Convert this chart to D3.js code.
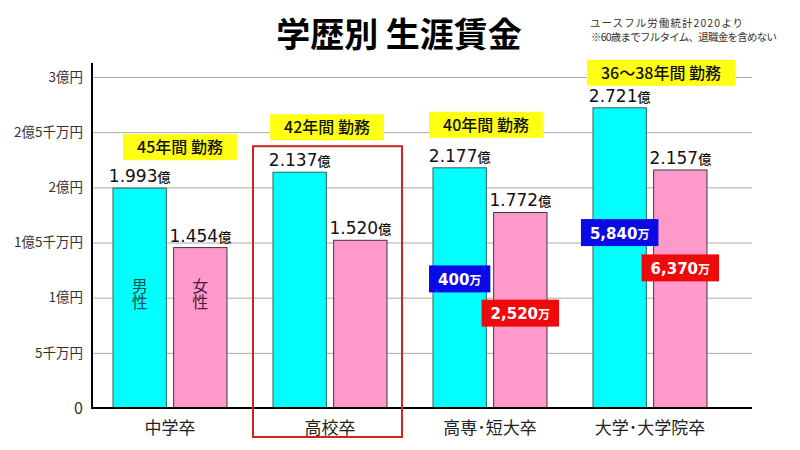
<!DOCTYPE html>
<html>
  <head>
    <meta charset="utf-8">
    <style>
    body {
      margin: 0;
      background: #fff;
    }
    svg text {
      font-family: "Noto Sans CJK JP", "Noto Sans", sans-serif;
    }
    .num {
      font-family: "DejaVu Sans", sans-serif;
    }
    </style>
  </head>
  <body>
    <script src="https://d3js.org/d3.v7.min.js"></script>
    <script>
    // data (億円)
    var categories = ["中学卒", "高校卒", "高専･短大卒", "大学･大学院卒"];
    var genders = ["男性", "女性"];
    var maleValues = [1.993, 2.137, 2.177, 2.721];
    var femaleValues = [1.454, 1.520, 1.772, 2.157];
    var workYears = ["45年間 勤務", "42年間 勤務", "40年間 勤務", "36～38年間 勤務"];
    // difference vs 高校卒 (万円)
    var maleDiff = [null, null, 400, 5840];
    var femaleDiff = [null, null, 2520, 6370];
    var yTicks = [0, 0.5, 1, 1.5, 2, 2.5, 3];
    var yTickLabels = ["0", "5千万円", "1億円", "1億5千万円", "2億円", "2億5千万円", "3億円"];

    // layout tweaks for annotation placement (value units / px)
    var maleDiffAt = [null, null, 1.17, 1.59];
    var femaleDiffAt = [null, null, 0.86, 1.27];
    var yearBoxShift = [10, -3, -4, 11];
    var yearBoxGap = [28, 32, 30, 22];

    var width = 800,
      height = 450;

    var svg = d3.select("body").append("svg")
        .attr("width", width)
        .attr("height", height);

    var x0 = d3.scaleBand()
        .domain(categories)
        .range([90, 730]);

    var x1 = d3.scaleBand()
        .domain(genders)
        .range([23, 137])
        .paddingInner(0.12);

    var y = d3.scaleLinear()
        .domain([0, 3])
        .range([408, 77]);

    // title
    svg.append("text")
        .attr("x", 399)
        .attr("y", 47)
        .attr("text-anchor", "middle")
        .style("font-size", "34px")
        .style("font-weight", "bold")
        .attr("fill", "#000")
        .text("学歴別 生涯賃金");

    svg.append("text")
        .attr("x", 590)
        .attr("y", 27)
        .attr("textLength", 153)
        .style("font-size", "10.5px")
        .attr("fill", "#333")
        .text("ユースフル労働統計2020より");
    svg.append("text")
        .attr("x", 591)
        .attr("y", 41)
        .attr("textLength", 186)
        .style("font-size", "10.5px")
        .attr("fill", "#333")
        .text("※60歳までフルタイム、退職金を含めない");

    // grid
    svg.append("g")
        .attr("transform", "translate(92,0)")
        .call(d3.axisLeft(y).tickValues(yTicks).tickSize(-660).tickFormat(""))
        .call(function(g){
          g.select(".domain").remove();
          g.selectAll(".tick line").attr("stroke", "#aaa");
        });

    // y axis labels
    var yAxis = svg.append("g")
        .attr("transform", "translate(92,0)")
        .call(d3.axisLeft(y).tickValues(yTicks).tickSize(0).tickPadding(9)
          .tickFormat(function(d, i){ return yTickLabels[i]; }));
    yAxis.select(".domain").remove();
    yAxis.selectAll(".tick text")
        .attr("fill", "#333")
        .style("font-size", function(d){ return d === 0 ? "16px" : "13.5px"; })
        .style("font-family", "\"Noto Sans CJK JP\", sans-serif");

    // bars
    var groups = svg.selectAll(".cat")
      .data(categories)
      .enter().append("g")
        .attr("class", "cat")
        .attr("transform", function(d){ return "translate(" + x0(d) + ",0)"; });

    groups.append("rect")
        .attr("x", x1("男性"))
        .attr("y", function(d, i){ return y(maleValues[i]); })
        .attr("width", x1.bandwidth())
        .attr("height", function(d, i){ return y(0) - y(maleValues[i]); })
        .attr("fill", "#00ffff")
        .attr("stroke", "#2f6262")
        .attr("stroke-width", 1);

    groups.append("rect")
        .attr("x", x1("女性"))
        .attr("y", function(d, i){ return y(femaleValues[i]); })
        .attr("width", x1.bandwidth())
        .attr("height", function(d, i){ return y(0) - y(femaleValues[i]); })
        .attr("fill", "#ff99cc")
        .attr("stroke", "#3a3a3a")
        .attr("stroke-width", 1);

    // value labels
    function valueLabel(sel, gender, values){
      var t = sel.append("text")
          .attr("x", x1(gender) + x1.bandwidth() / 2)
          .attr("y", function(d, i){ return y(values[i]) - 6; })
          .attr("text-anchor", "middle")
          .attr("fill", "#111");
      t.append("tspan")
          .attr("class", "num")
          .style("font-size", "17px")
          .text(function(d, i){ return values[i].toFixed(3); });
      t.append("tspan")
          .style("font-size", "13px")
          .style("font-weight", 500)
          .text("億");
    }
    valueLabel(groups, "男性", maleValues);
    valueLabel(groups, "女性", femaleValues);

    // axes lines
    svg.append("line")
        .attr("x1", 92).attr("x2", 92)
        .attr("y1", 63).attr("y2", y(0))
        .attr("stroke", "#000")
        .attr("stroke-width", 2);
    svg.append("line")
        .attr("x1", 91).attr("x2", 752)
        .attr("y1", y(0)).attr("y2", y(0))
        .attr("stroke", "#000")
        .attr("stroke-width", 2);

    // category labels
    groups.append("text")
        .attr("x", x0.bandwidth() / 2)
        .attr("y", 434)
        .attr("text-anchor", "middle")
        .attr("fill", "#222")
        .style("font-size", "17px")
        .text(function(d){ return d; });

    // 男性 / 女性 vertical labels in first group
    var first = groups.filter(function(d, i){ return i === 0; });
    first.selectAll(".gender")
      .data(genders)
      .enter().append("text")
        .attr("class", "gender")
        .attr("x", function(g){ return x1(g) + x1.bandwidth() / 2; })
        .attr("y", 294)
        .attr("text-anchor", "middle")
        .style("writing-mode", "vertical-rl")
        .style("font-size", "16px")
        .attr("fill", function(g){ return g === "男性" ? "#145050" : "#4a1c3a"; })
        .text(function(g){ return g; });

    // work years boxes
    groups.each(function(d, i){
      var g = d3.select(this);
      var cx = x0.bandwidth() / 2 + yearBoxShift[i];
      var bottom = y(maleValues[i]) - yearBoxGap[i];
      var rect = g.append("rect")
          .attr("fill", "#ffff14");
      var txt = g.append("text")
          .attr("x", cx)
          .attr("y", bottom - 7)
          .attr("text-anchor", "middle")
          .attr("fill", "#111")
          .style("font-size", "16px")
          .style("font-weight", 500)
          .text(workYears[i]);
      var w = txt.node().getComputedTextLength() + 28;
      rect.attr("x", cx - w / 2)
          .attr("y", bottom - 26)
          .attr("width", w)
          .attr("height", 26);
    });

    // highlight 高校卒
    var hlTop = y(maleValues[1]) - 26;
    svg.append("rect")
        .attr("x", x0("高校卒") + 3)
        .attr("y", hlTop)
        .attr("width", x0.bandwidth() - 11)
        .attr("height", 437 - hlTop)
        .attr("fill", "none")
        .attr("stroke", "#d42222")
        .attr("stroke-width", 2);

    // difference labels
    var fmt = d3.format(",");
    function diffLabel(gender, diffs, at, color){
      groups.each(function(d, i){
        if (diffs[i] == null) return;
        var g = d3.select(this);
        var cx = x1(gender) + x1.bandwidth() / 2;
        var cy = y(at[i]);
        var rect = g.append("rect").attr("fill", color);
        var t = g.append("text")
            .attr("x", cx)
            .attr("y", cy + 6)
            .attr("text-anchor", "middle")
            .attr("fill", "#fff")
            .style("font-weight", "bold");
        t.append("tspan").attr("class", "num").style("font-size", "15px").text(fmt(diffs[i]));
        t.append("tspan").style("font-size", "12px").text("万");
        var w = t.node().getComputedTextLength() + 18;
        rect.attr("x", cx - w / 2)
            .attr("y", cy - 13.5)
            .attr("width", w)
            .attr("height", 27);
      });
    }
    diffLabel("男性", maleDiff, maleDiffAt, "#0a0ae6");
    diffLabel("女性", femaleDiff, femaleDiffAt, "#ee0a0a");
    </script>
  </body>
</html>
